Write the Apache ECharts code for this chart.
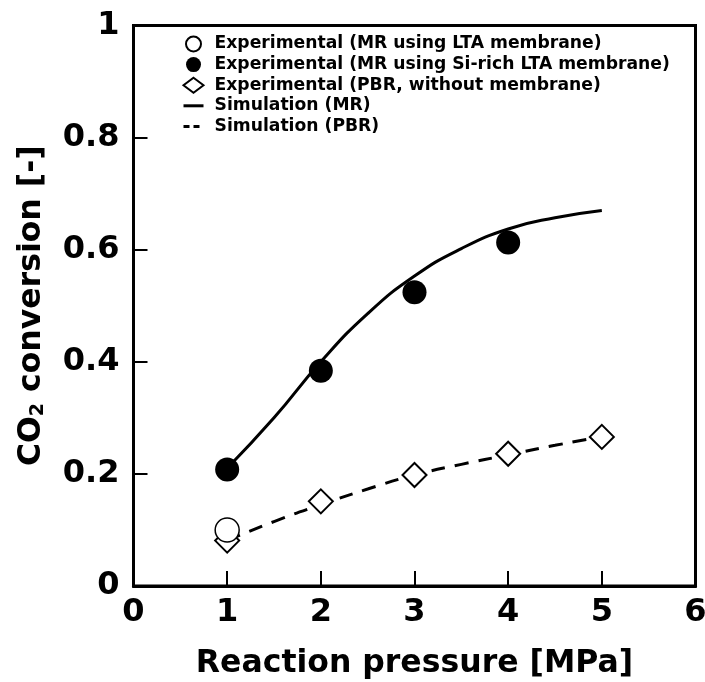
<!DOCTYPE html>
<html>
<head>
<meta charset="utf-8">
<script src="https://cdn.jsdelivr.net/npm/echarts@6/dist/echarts.min.js"></script>
<style>
  html, body {margin: 0; padding: 0; background: #fff;}
  #chart {width: 705px; height: 682px;}
</style>
</head>
<body>
<div id="chart"></div>
<script>
// experimental points
const pressure = [1, 2, 3, 4, 5]
const expLTA = [0.10]
const expSiRich = [0.208, 0.384, 0.524, 0.613]
const expPBR = [0.081, 0.151, 0.198, 0.236, 0.266]
// simulation curves
const simPressure = [1, 1.5, 2, 2.5, 3, 3.5, 4, 4.5, 5]
const simMR = [0.21, 0.30, 0.40, 0.486, 0.553, 0.602, 0.637, 0.657, 0.67]
const simPBR = [0.081, 0.115, 0.145, 0.173, 0.198, 0.217, 0.234, 0.251, 0.266]

const FONT = 'DejaVu Sans'
const pairs = (xs, ys) => ys.map((v, i) => [xs[i], v])

const chart = echarts.init(document.getElementById('chart'), null, {renderer: 'canvas'})

chart.setOption({
  backgroundColor: '#fff',
  animation: false,
  textStyle: {fontFamily: FONT},
  grid: {
    left: 133.5, right: 9.5, top: 25.5, bottom: 96,
    outerBoundsMode: 'none',
    show: true, borderColor: '#000', borderWidth: 3,
  },
  legend: {
    left: 182, top: 35.5, orient: 'vertical', padding: 0,
    itemWidth: 20, itemHeight: 15, itemGap: 3.6,
    selectedMode: false,
    lineStyle: {width: 3},
    textStyle: {fontFamily: FONT, fontWeight: 'bold', fontSize: 17.2, lineHeight: 17, color: '#000', padding: [0, 0, 0, 6]},
    data: [
      {name: 'Experimental (MR using LTA membrane)'},
      {name: 'Experimental (MR using Si-rich LTA membrane)'},
      {name: 'Experimental (PBR, without membrane)'},
      {name: 'Simulation (MR)'},
      {name: 'Simulation (PBR)', lineStyle: {width: 3, type: [6, 4]}},
    ],
  },
  xAxis: {
    type: 'value', min: 0, max: 6, interval: 1,
    name: 'Reaction pressure [MPa]', nameLocation: 'middle', nameGap: 62,
    nameTextStyle: {fontFamily: FONT, fontWeight: 'bold', fontSize: 31.5, color: '#000'},
    axisLine: {show: true, lineStyle: {color: '#000', width: 3}},
    axisTick: {show: true, inside: true, length: 15, lineStyle: {color: '#000', width: 2}},
    axisLabel: {fontFamily: FONT, fontWeight: 'bold', fontSize: 32, color: '#000', margin: 11},
    splitLine: {show: false},
  },
  yAxis: {
    type: 'value', min: 0, max: 1, interval: 0.2,
    name: '{a|CO}{s|2}{a| conversion [-]}', nameLocation: 'middle', nameGap: 86, nameRotate: 90,
    nameTextStyle: {
      color: '#000',
      rich: {
        a: {fontFamily: FONT, fontWeight: 'bold', fontSize: 31.5, color: '#000'},
        s: {fontFamily: FONT, fontWeight: 'bold', fontSize: 19, color: '#000', verticalAlign: 'bottom', padding: [13, 0, 0, 0]},
      },
    },
    axisLine: {show: true, lineStyle: {color: '#000', width: 3}},
    axisTick: {show: true, inside: true, length: 14, lineStyle: {color: '#000', width: 2}},
    axisLabel: {fontFamily: FONT, fontWeight: 'bold', fontSize: 32, color: '#000', margin: 14},
    splitLine: {show: false},
  },
  series: [
    {
      name: 'Experimental (MR using LTA membrane)',
      type: 'scatter', z: 5,
      symbol: 'circle', symbolSize: 24,
      itemStyle: {color: '#fff', borderColor: '#000', borderWidth: 1.5, opacity: 1},
      data: pairs(pressure, expLTA),
    },
    {
      name: 'Experimental (MR using Si-rich LTA membrane)',
      type: 'scatter', z: 4,
      symbol: 'circle', symbolSize: 24,
      itemStyle: {color: '#000', borderColor: '#000', borderWidth: 0, opacity: 1},
      data: pairs(pressure, expSiRich),
    },
    {
      name: 'Experimental (PBR, without membrane)',
      type: 'scatter', z: 3,
      symbol: 'diamond', symbolSize: 24,
      itemStyle: {color: '#fff', borderColor: '#000', borderWidth: 2, opacity: 1},
      data: pairs(pressure, expPBR),
    },
    {
      name: 'Simulation (MR)',
      type: 'line', z: 2, smooth: true, symbol: 'none',
      lineStyle: {color: '#000', width: 3},
      // hides the dot the legend puts on line icons
      itemStyle: {color: '#000', opacity: 0},
      data: pairs(simPressure, simMR),
    },
    {
      name: 'Simulation (PBR)',
      type: 'line', z: 2, smooth: true, symbol: 'none',
      lineStyle: {color: '#000', width: 3, type: [14, 10]},
      itemStyle: {color: '#000', opacity: 0},
      data: pairs(simPressure, simPBR),
    },
  ],
})
</script>
</body>
</html>
